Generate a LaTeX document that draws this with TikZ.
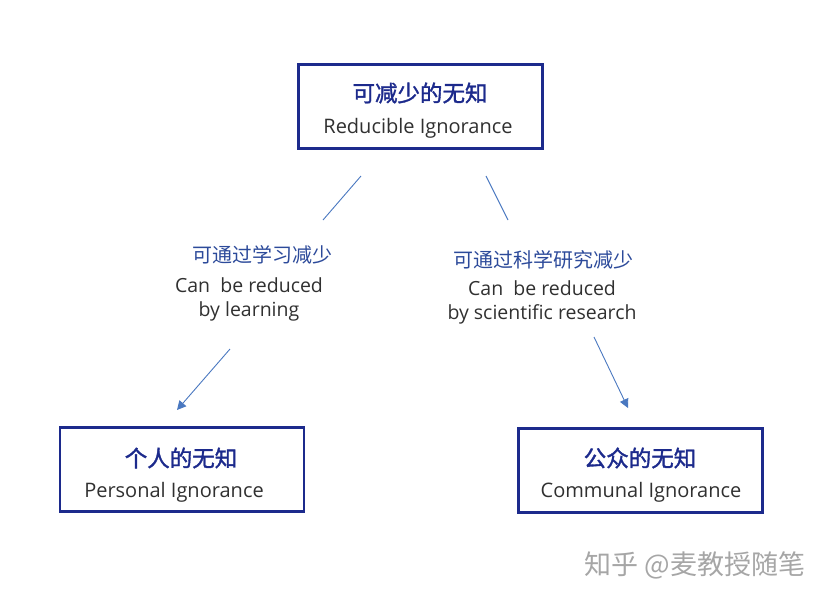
\documentclass[tikz,border=0pt]{standalone}
\usepackage{fontspec}
\setmainfont{Open Sans}
\newfontfamily\cjk{Noto Sans CJK SC}
\newfontfamily\cjkbold[FakeBold=1.5]{Noto Sans CJK SC}
\usetikzlibrary{positioning,arrows.meta}
\definecolor{navy}{HTML}{1C2A8C}
\definecolor{linkblue}{HTML}{4A78C0}
\definecolor{labelblue}{HTML}{2C4A9A}
\definecolor{textgray}{HTML}{303030}
\tikzset{
  box/.style={draw=navy,line width=2.6pt,minimum width=244pt,minimum height=84pt,inner sep=0pt},
  link/.style={draw=linkblue,line width=0.9pt},
  cn/.style={font=\cjk\fontsize{20}{23}\selectfont,text=labelblue},
  en/.style={font=\fontsize{19.5}{24}\selectfont,text=textgray,align=center},
  title/.style={font=\cjkbold\fontsize{22.5}{26}\selectfont,text=navy},
  sub/.style={font=\fontsize{20}{23}\selectfont,text=textgray}
}
\begin{document}
\begin{tikzpicture}[x=1pt,y=-1pt]
  \useasboundingbox (0,0) rectangle (830,598);
  \node[box] (top)   at (420.5,106.5) {};
  \node[box] (left)  at (182,469.5)   {};
  \node[box] (right) at (640.5,470.5) {};
  % titles
  \node[title] at (420,93) {可减少的无知};
  \node[sub] at (418,128) {Reducible Ignorance};
  \node[title] at (181,458) {个人的无知};
  \node[sub] at (174,492) {Personal Ignorance};
  \node[title] at (640,458) {公众的无知};
  \node[sub] at (641,492) {Communal Ignorance};
  % labels
  \node[cn] (lcn) at (262,255) {可通过学习减少};
  \node[en] (len) at (249,299) {Can\ \ be reduced\\by learning};
  \node[cn] (rcn) at (543,260) {可通过科学研究减少};
  \node[en] (ren) at (542,302) {Can\ \ be reduced\\by scientific research};
  % connectors
  \coordinate (l1) at (361,176); \coordinate (l2) at (323,220);
  \coordinate (l3) at (230,349); \coordinate (l4) at (177,410);
  \coordinate (r1) at (486,176); \coordinate (r2) at (508,220);
  \coordinate (r3) at (594,337); \coordinate (r4) at (628,408);
  \draw[link] (l1) -- (l2);
  \draw[link,-{Triangle[length=9pt,width=9pt]}] (l3) -- (l4);
  \draw[link] (r1) -- (r2);
  \draw[link,-{Triangle[length=9pt,width=9pt]}] (r3) -- (r4);
  % watermark
  \node[font=\cjk\fontsize{27}{30}\selectfont,text=black!35] at (695,565) {知乎 @麦教授随笔};
\end{tikzpicture}
\end{document}
